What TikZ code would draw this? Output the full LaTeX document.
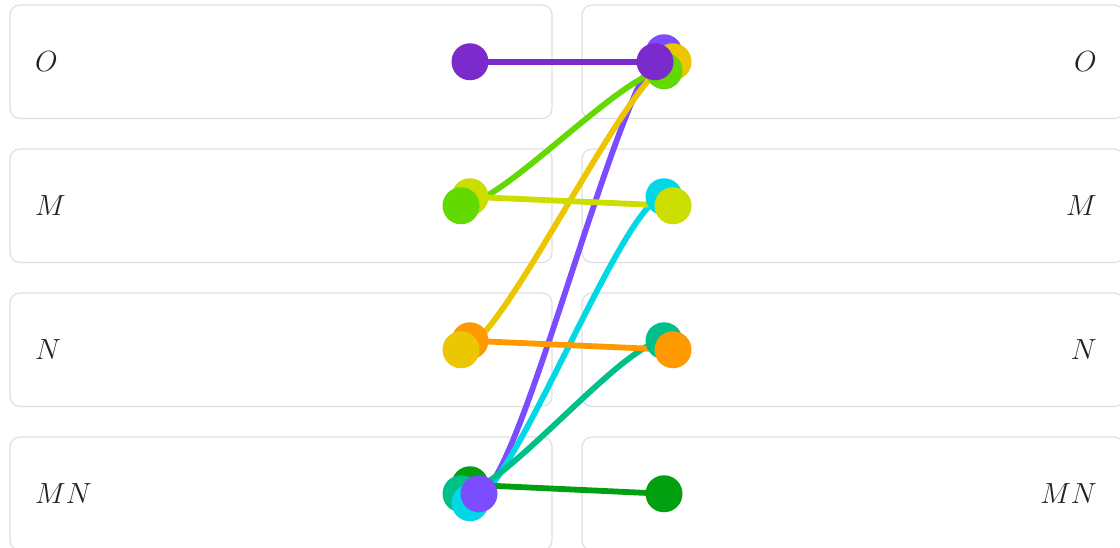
\documentclass[tikz,border=0pt]{standalone}
\usetikzlibrary{calc}
\definecolor{cPurple}{HTML}{7B2BCB}
\definecolor{cViolet}{HTML}{7C4DFF}
\definecolor{cYellow}{HTML}{ECC600}
\definecolor{cGreen}{HTML}{62D900}
\definecolor{cYG}{HTML}{CCDD00}
\definecolor{cCyan}{HTML}{00D8E6}
\definecolor{cOrange}{HTML}{FF9900}
\definecolor{cTeal}{HTML}{00C08A}
\definecolor{cDGreen}{HTML}{00A010}
\definecolor{cBorder}{HTML}{E0E0E4}
\definecolor{cText}{HTML}{222222}
\pgfdeclarelayer{boxes}
\pgfdeclarelayer{edges}
\pgfsetlayers{boxes,edges,main}
\tikzset{
  panel/.style={draw=cBorder, line width=1.3pt, rounded corners=10pt, fill=white},
  lab/.style={inner sep=0pt, text=cText, font=\Huge},
  dot/.style={circle, fill=#1, inner sep=0pt, minimum size=37pt},
  link/.style={draw=#1, line width=5.8pt},
}
\newcommand{\lbl}[1]{\scalebox{1.17}{$#1$}}
\newcommand{\curvelink}[3]{\draw[link=#1] (#2.center) .. controls ($(#2.center)+(40,0)$) and ($(#3.center)+(-40,0)$) .. (#3.center);}
\begin{document}
\begin{tikzpicture}[x=1pt,y=-1pt]
\useasboundingbox (0,0) rectangle (1120,547);
\clip (0,0) rectangle (1120,547);
% panels
\begin{pgfonlayer}{boxes}
\foreach \r in {0,1,2,3}{
  \draw[panel] (10,{5+144*\r}) rectangle (552,{118.5+144*\r});
  \draw[panel] (582,{5+144*\r}) rectangle (1124,{118.5+144*\r});
}
\end{pgfonlayer}
% labels
\node[lab, anchor=west] (lO) at (35,61.75) {\lbl{O}};
\node[lab, anchor=west] (lM) at (35,205.75) {\lbl{M}};
\node[lab, anchor=west] (lN) at (35,349.75) {\lbl{N}};
\node[lab, anchor=west] (lMN) at (35,493.75) {\lbl{MN}};
\node[lab, anchor=east] (rO) at (1097,61.75) {\lbl{O}};
\node[lab, anchor=east] (rM) at (1097,205.75) {\lbl{M}};
\node[lab, anchor=east] (rN) at (1097,349.75) {\lbl{N}};
\node[lab, anchor=east] (rMN) at (1097,493.75) {\lbl{MN}};
% left dots
\node[dot=cPurple] (LOc) at (470,61.75) {};
\node[dot=cYG] (LMu) at (470,196.75) {};
\node[dot=cGreen] (LMl) at (461,205.75) {};
\node[dot=cOrange] (LNu) at (470,340.75) {};
\node[dot=cYellow] (LNl) at (461,349.75) {};
\node[dot=cDGreen] (LXu) at (470,484.75) {};
\node[dot=cTeal] (LXl) at (461,493.75) {};
\node[dot=cCyan] (LXd) at (470,502.75) {};
\node[dot=cViolet] (LXr) at (479,493.75) {};
% right dots
\node[dot=cViolet] (ROu) at (664,52.75) {};
\node[dot=cYellow] (ROr) at (673,61.75) {};
\node[dot=cGreen] (ROd) at (664,70.75) {};
\node[dot=cPurple] (ROl) at (655,61.75) {};
\node[dot=cCyan] (RMu) at (664,196.75) {};
\node[dot=cYG] (RMr) at (673,205.75) {};
\node[dot=cTeal] (RNu) at (664,340.75) {};
\node[dot=cOrange] (RNr) at (673,349.75) {};
\node[dot=cDGreen] (RXc) at (664,493.75) {};
% links
\begin{pgfonlayer}{edges}
\curvelink{cViolet}{LXr}{ROu}
\curvelink{cCyan}{LXd}{RMu}
\curvelink{cTeal}{LXl}{RNu}
\curvelink{cGreen}{LMl}{ROd}
\curvelink{cYellow}{LNl}{ROr}
\draw[link=cPurple] (LOc.center) -- (ROl.center);
\draw[link=cYG] (LMu.center) -- (RMr.center);
\draw[link=cOrange] (LNu.center) -- (RNr.center);
\draw[link=cDGreen] (LXu.center) -- (RXc.center);
\end{pgfonlayer}
\end{tikzpicture}
\end{document}
